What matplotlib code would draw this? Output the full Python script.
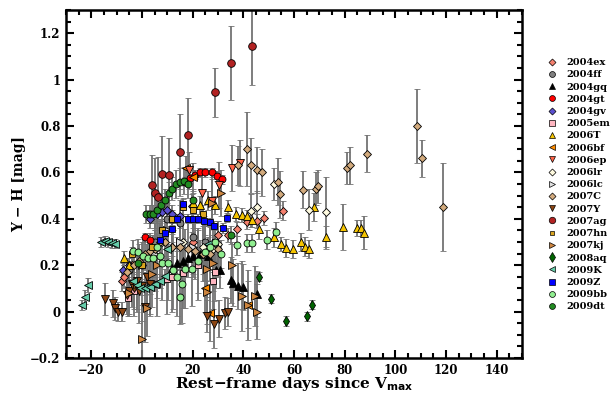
import matplotlib
matplotlib.use("Agg")
import matplotlib.pyplot as plt
from matplotlib.lines import Line2D
from matplotlib.ticker import MultipleLocator, FuncFormatter

# ---- data ----
names = ["2004ex", "2004ff", "2004gq", "2004gt", "2004gv", "2005em", "2006T", "2006bf",
         "2006ep", "2006lr", "2006lc", "2007C", "2007Y", "2007ag", "2007hn", "2007kj",
         "2008aq", "2009K", "2009Z", "2009bb", "2009dt"]

x_2004ex = [-8, -7, -4, 20, 25, 30, 34, 37.6, 41.6, 45.5, 48.3, 55.5]
y_2004ex = [0.13, 0.15, 0.2, 0.3, 0.28, 0.33, 0.33, 0.355, 0.385, 0.39, 0.405, 0.435]
e_2004ex = [0.04, 0.05, 0.05, 0.06, 0.05, 0.04, 0.03, 0.03, 0.03, 0.03, 0.03, 0.04]

x_2004ff = [-5, 0, 5, 10, 15, 20, 25]
y_2004ff = [0.18, 0.2, 0.3, 0.4, 0.38, 0.32, 0.3]
e_2004ff = [0.05, 0.06, 0.08, 0.1, 0.1, 0.1, 0.08]

x_2004gq = [12, 14, 16, 18, 20, 23, 26, 29.3, 30.9, 35, 36, 38, 40, 45.5]
y_2004gq = [0.19, 0.21, 0.22, 0.23, 0.24, 0.25, 0.24, 0.18, 0.18, 0.135, 0.125, 0.11, 0.105, 0.075]
e_2004gq = [0.05, 0.05, 0.05, 0.06, 0.06, 0.06, 0.06, 0.08, 0.08, 0.1, 0.1, 0.1, 0.1, 0.1]

x_2004gt = [1, 3, 12, 17, 19, 21, 23, 25, 27.5, 29.5, 31.5]
y_2004gt = [0.32, 0.31, 0.4, 0.56, 0.575, 0.59, 0.6, 0.6, 0.6, 0.585, 0.57]
e_2004gt = [0.02, 0.02, 0.03, 0.02, 0.02, 0.02, 0.02, 0.02, 0.02, 0.02, 0.02]

x_2004gv = [-7.5, -5, 3, 6, 8, 10, 12, 15, 19.7]
y_2004gv = [0.18, 0.2, 0.4, 0.42, 0.43, 0.44, 0.42, 0.41, 0.455]
e_2004gv = [0.03, 0.03, 0.04, 0.04, 0.04, 0.04, 0.04, 0.05, 0.05]

x_2005em = [-5.5, -3, 3, 6, 9.9, 12, 16, 22, 28.2, 29]
y_2005em = [0.06, 0.09, 0.11, 0.12, 0.14, 0.15, 0.165, 0.2, 0.13, 0.17]
e_2005em = [0.08, 0.08, 0.12, 0.14, 0.15, 0.15, 0.15, 0.15, 0.12, 0.12]

x_2006T = [-7, -5, 20, 23, 26, 29, 34, 37, 39.6, 41.5, 43.5, 46, 52, 54.7, 57, 59.6,
           62.6, 64.5, 66, 67.7, 72.5, 79.5, 85, 86.4, 87.5]
y_2006T = [0.23, 0.2, 0.47, 0.46, 0.48, 0.46, 0.45, 0.42, 0.415, 0.41, 0.395, 0.355, 0.32,
           0.29, 0.275, 0.27, 0.3, 0.28, 0.27, 0.45, 0.32, 0.365, 0.36, 0.36, 0.34]
e_2006T = [0.03, 0.03, 0.04, 0.04, 0.04, 0.04, 0.03, 0.03, 0.03, 0.03, 0.03, 0.04, 0.04,
           0.03, 0.04, 0.04, 0.04, 0.04, 0.04, 0.06, 0.05, 0.1, 0.035, 0.035, 0.07]

x_2006bf = [17.5, 20, 25, 27, 42]
y_2006bf = [0.62, 0.58, 0.1, -0.005, 0.03]
e_2006bf = [0.05, 0.06, 0.1, 0.12, 0.1]

x_2006ep = [18.4, 23.7, 27.8, 30.3, 35.6, 38.5]
y_2006ep = [0.61, 0.51, 0.475, 0.545, 0.62, 0.64]
e_2006ep = [0.08, 0.1, 0.12, 0.1, 0.1, 0.1]

x_2006lr = [8, 12, 16, 20, 24, 28, 30, 43, 45.5, 52, 65.8, 72.5]
y_2006lr = [0.3, 0.28, 0.3, 0.27, 0.28, 0.27, 0.29, 0.435, 0.45, 0.55, 0.44, 0.43]
e_2006lr = [0.1, 0.1, 0.12, 0.12, 0.12, 0.1, 0.1, 0.07, 0.07, 0.07, 0.09, 0.15]

x_2006lc = [0, 5, 10, 15, 20, 25]
y_2006lc = [0.2, 0.25, 0.35, 0.3, 0.28, 0.25]
e_2006lc = [0.1, 0.1, 0.12, 0.12, 0.12, 0.12]

x_2007C = [-6, -3, -1, 1, 3, 5, 7, 9, 12, 15, 18, 21, 24, 27, 30,
           37.7, 41.6, 43, 45.5, 47.5, 53.8, 54.6, 63.7, 68.5, 69.5, 80.8, 82, 88.7,
           108.5, 110.5, 119]
y_2007C = [0.17, 0.2, 0.22, 0.25, 0.26, 0.27, 0.3, 0.3, 0.28, 0.28, 0.27, 0.26, 0.25, 0.25, 0.27,
           0.63, 0.70, 0.63, 0.61, 0.6, 0.56, 0.505, 0.525, 0.53, 0.54, 0.62, 0.63, 0.68,
           0.8, 0.66, 0.45]
e_2007C = [0.06, 0.06, 0.07, 0.07, 0.08, 0.08, 0.1, 0.1, 0.1, 0.1, 0.12, 0.12, 0.12, 0.12, 0.12,
           0.085, 0.16, 0.12, 0.1, 0.1, 0.1, 0.1, 0.08, 0.07, 0.07, 0.07, 0.08, 0.08,
           0.16, 0.08, 0.19]

x_2007Y = [-14.6, -11.4, -10.7, -9.5, -8, -6, -5, -4, -3, -2, -1, 0, 1, 2, 3,
           25.6, 28.6, 30.3, 32.8, 34]
y_2007Y = [0.055, 0.035, 0.015, 0.0, 0.0, 0.07, 0.09, 0.12, 0.1, 0.13, 0.09, 0.11, 0.02, 0.15, 0.12,
           -0.02, -0.055, -0.03, -0.006, 0.0]
e_2007Y = [0.07, 0.06, 0.05, 0.04, 0.04, 0.08, 0.1, 0.1, 0.12, 0.12, 0.14, 0.15, 0.15, 0.14, 0.14,
           0.07, 0.1, 0.08, 0.07, 0.06]

x_2007ag = [4, 5, 6.5, 8, 10.5, 15, 18, 29, 35, 43.5]
y_2007ag = [0.545, 0.51, 0.495, 0.595, 0.59, 0.69, 0.76, 0.945, 1.07, 1.145]
e_2007ag = [0.13, 0.15, 0.17, 0.16, 0.16, 0.16, 0.16, 0.105, 0.16, 0.17]

x_2007hn = [-4, 0, 4, 8, 12, 16, 20, 24]
y_2007hn = [0.25, 0.2, 0.28, 0.35, 0.4, 0.45, 0.44, 0.42]
e_2007hn = [0.03, 0.03, 0.03, 0.04, 0.04, 0.04, 0.04, 0.04]

x_2007kj = [-5, -2, 0, 2, 4, 6, 25.6, 25.8, 27.7, 28.2, 31, 35.6, 39.5, 41.7, 44.8, 45.5]
y_2007kj = [0.08, 0.12, -0.12, 0.015, 0.16, 0.2, 0.185, 0.085, 0.47, 0.21, 0.51, 0.2, 0.067, 0.028, 0.068, 0.0]
e_2007kj = [0.1, 0.12, 0.15, 0.12, 0.14, 0.14, 0.12, 0.14, 0.1, 0.12, 0.1, 0.1, 0.15, 0.15, 0.13, 0.12]

x_2008aq = [46.3, 51, 57, 65, 67.3]
y_2008aq = [0.15, 0.055, -0.04, -0.02, 0.03]
e_2008aq = [0.02, 0.02, 0.02, 0.02, 0.02]

x_2009K = [-23.8, -22.6, -21.3, -16, -14.6, -13.5, -12, -10.7, -3.5, -2, -0.8, 1.2, 3.2, 5, 7, 9, 10, 26]
y_2009K = [0.028, 0.063, 0.115, 0.30, 0.305, 0.298, 0.295, 0.293, 0.13, 0.115, 0.1, 0.1, 0.105,
           0.12, 0.13, 0.155, 0.27, 0.29]
e_2009K = [0.02, 0.03, 0.03, 0.02, 0.02, 0.02, 0.02, 0.02, 0.03, 0.03, 0.03, 0.03, 0.03,
           0.03, 0.03, 0.03, 0.03, 0.03]

x_2009Z = [7, 9, 12, 14, 16, 18, 20, 22, 24.5, 27, 28.5, 28.7, 32, 33.5]
y_2009Z = [0.31, 0.34, 0.355, 0.4, 0.465, 0.4, 0.4, 0.4, 0.39, 0.385, 0.37, 0.3, 0.36, 0.405]
e_2009Z = [0.02, 0.02, 0.02, 0.02, 0.02, 0.02, 0.02, 0.02, 0.02, 0.02, 0.02, 0.02, 0.02, 0.02]

x_2009bb = [-3.5, -1.5, 0.5, 2.5, 4.5, 6, 7, 8, 10.4, 12.4, 14, 15, 15.9, 17, 19.7,
            22, 25, 27, 29, 31, 37.5, 41.5, 43.5, 49.5, 52.7]
y_2009bb = [0.26, 0.255, 0.24, 0.23, 0.23, 0.28, 0.24, 0.21, 0.21, 0.18, 0.15, 0.065, 0.12, 0.185,
            0.185, 0.22, 0.255, 0.28, 0.3, 0.25, 0.285, 0.295, 0.295, 0.31, 0.345]
e_2009bb = [0.05, 0.06, 0.08, 0.1, 0.1, 0.12, 0.14, 0.16, 0.16, 0.17, 0.17, 0.12, 0.17, 0.17,
            0.16, 0.14, 0.12, 0.1, 0.08, 0.06, 0.04, 0.04, 0.04, 0.04, 0.04]

x_2009dt = [-1.5, 1.5, 3, 4.5, 6, 7.5, 9, 10.5, 12, 13.5, 15, 16.5, 18, 20, 35]
y_2009dt = [0.21, 0.42, 0.42, 0.42, 0.44, 0.46, 0.48, 0.51, 0.53, 0.55, 0.56, 0.565, 0.55, 0.48, 0.33]
e_2009dt = [0.04, 0.04, 0.04, 0.04, 0.05, 0.05, 0.05, 0.05, 0.05, 0.06, 0.06, 0.06, 0.06, 0.05, 0.04]

# ---- styles ----
styles = {
    "2004ex": ("D", "#f4806e", 4.2),
    "2004ff": ("o", "#808080", 5),
    "2004gq": ("^", "#000000", 5.5),
    "2004gt": ("o", "#ff0000", 5),
    "2004gv": ("D", "#5a4fcf", 4.2),
    "2005em": ("s", "#ffb6c1", 4.5),
    "2006T":  ("^", "#f5c400", 5.5),
    "2006bf": ("<", "#ff8c00", 5.5),
    "2006ep": ("v", "#ff6347", 5.5),
    "2006lr": ("D", "#fffbe0", 4.2),
    "2006lc": (">", "#e0e0e0", 5.5),
    "2007C":  ("D", "#d2aa7d", 4.2),
    "2007Y":  ("v", "#8b4513", 5.5),
    "2007ag": ("o", "#b22222", 5.5),
    "2007hn": ("s", "#daa520", 4.2),
    "2007kj": (">", "#cd853f", 5.5),
    "2008aq": ("d", "#006400", 5.5),
    "2009K":  ("<", "#66cdaa", 5.5),
    "2009Z":  ("s", "#0000ff", 4.5),
    "2009bb": ("o", "#90ee90", 5),
    "2009dt": ("o", "#228b22", 5),
}

data = {n: (globals()["x_" + n], globals()["y_" + n], globals()["e_" + n]) for n in names}

plt.rcParams['font.family'] = ['DejaVu Serif']
plt.rcParams['font.weight'] = 'bold'

fig = plt.figure(figsize=(6.13, 3.95), dpi=100)
ax = fig.add_axes([66/613, 1-358/395, (522-66)/613, (358-10)/395])

handles = []
for n in names:
    m, c, ms = styles[n]
    x, y, e = data[n]
    ax.errorbar(x, y, yerr=e, fmt=m, ls='none', mfc=c, mec='k', mew=0.6, ms=ms,
                ecolor='0.45', elinewidth=1.3, capsize=2.2, capthick=1.0, zorder=2)
    handles.append(Line2D([], [], ls='none', marker=m, mfc=c, mec='k', mew=0.5, ms=ms*0.85))

ax.set_xlim(-30, 150)
ax.set_ylim(-0.2, 1.3)
ax.xaxis.set_major_locator(MultipleLocator(20))
ax.xaxis.set_minor_locator(MultipleLocator(5))
ax.yaxis.set_major_locator(MultipleLocator(0.2))
ax.yaxis.set_minor_locator(MultipleLocator(0.05))
ax.yaxis.set_major_formatter(FuncFormatter(lambda v, p: ('%g' % round(v, 2)).replace('-', '\u2212')))
ax.xaxis.set_major_formatter(FuncFormatter(lambda v, p: ('%g' % v).replace('-', '\u2212')))
ax.tick_params(which='both', direction='in', top=True, right=True, width=1.5)
ax.tick_params(which='major', length=6, labelsize=8.5, pad=4)
ax.tick_params(which='minor', length=3.5)
for lab in ax.get_xticklabels() + ax.get_yticklabels():
    lab.set_fontweight('bold')
for s in ax.spines.values():
    s.set_linewidth(1.8)

ax.set_xlabel(r"Rest$-$frame days since V$_{\mathbf{max}}$", fontsize=11, fontweight='bold', labelpad=-1)
ax.set_ylabel("Y \u2212 H [mag]", fontsize=10, fontweight='bold', labelpad=3)

leg = ax.legend(handles, names, loc='upper left', bbox_to_anchor=(0.885, 0.865),
                bbox_transform=fig.transFigure, frameon=False, fontsize=7,
                handlelength=1.0, handletextpad=0.9, labelspacing=0.33, borderpad=0)
for t in leg.get_texts():
    t.set_fontweight('bold')

fig.savefig("out.png", dpi=100)
